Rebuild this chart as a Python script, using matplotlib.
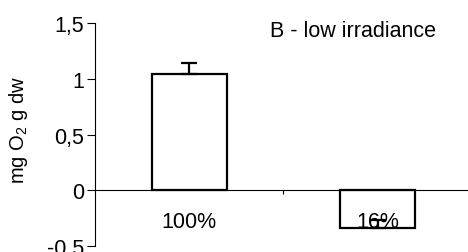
import matplotlib
matplotlib.use("Agg")
import matplotlib.pyplot as plt

plt.rcParams['font.family'] = ['Liberation Sans', 'DejaVu Sans']
plt.rcParams['mathtext.default'] = 'regular'

# data
categories = ['100%', '16%']
values = [1.045, -0.34]
err_plus = [0.10, 0.07]
yticks = [-0.5, 0, 0.5, 1, 1.5]
ytick_labels = ['-0.5', '0', '0,5', '1', '1,5']
title = 'B - low irradiance'
ylabel = 'mg O$_2$ g dw'

fs = 15.5

fig = plt.figure(figsize=(4.68, 2.53), dpi=100)
ax = fig.add_axes([95/468, 6/253, 1 - 95/468, (247 - 24.3)/253])

x = list(range(len(categories)))
ax.bar(x, values, width=0.4, color='white', edgecolor='black', linewidth=1.6, zorder=2)
ax.errorbar(x, values, yerr=[[0, 0], err_plus], fmt='none', ecolor='black',
            elinewidth=1.6, capsize=5.8, capthick=1.6, zorder=3)

ax.set_xlim(-0.5, 1.479)
ax.set_ylim(-0.5, 1.5)
ax.set_axisbelow(False)

for s in ['top', 'right']:
    ax.spines[s].set_visible(False)
ax.spines['bottom'].set_position(('data', 0))
ax.spines['bottom'].set_linewidth(0.8)
ax.spines['left'].set_linewidth(0.8)

ax.set_yticks(yticks)
ax.set_yticklabels(ytick_labels)
ax.tick_params(axis='y', direction='out', length=6, width=0.8, pad=2, labelsize=fs)

ax.set_xticks(x)
ax.set_xticklabels(categories)
ax.set_xticks([0.5], minor=True)
ax.tick_params(axis='x', which='major', length=0, pad=15, labelsize=fs)
ax.tick_params(axis='x', which='minor', direction='out', length=3, width=0.8)

ax.set_ylabel(ylabel, fontsize=14.5)
ax.yaxis.set_label_coords(-0.175, 0.525)
ax.text(0.869, 1.431, title, ha='center', va='center', fontsize=fs)

fig.savefig('out.png', dpi=100)
